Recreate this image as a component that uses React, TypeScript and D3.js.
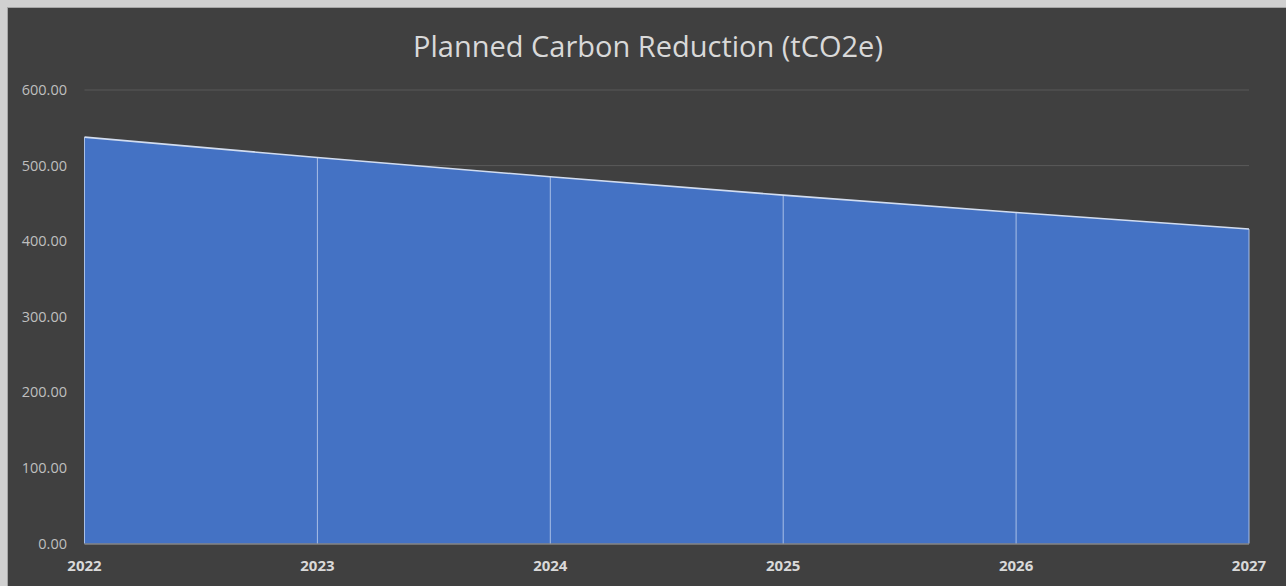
import React from 'react';
import * as d3 from 'd3';

const years = ['2022', '2023', '2024', '2025', '2026', '2027'];
const reduction = [537.6, 510.7, 485.2, 460.9, 437.9, 416.0];
const yTicks = [0, 100, 200, 300, 400, 500, 600];
const title = 'Planned Carbon Reduction (tCO2e)';

const W = 1286;
const H = 586;

const App = () => {
    const x = d3.scalePoint<string>().domain(years).range([84.5, 1249]);
    const y = d3.scaleLinear().domain([0, 600]).range([543.5, 90]);

    const pts = years.map((yr, i) => ({ yr, v: reduction[i] }));

    const area = d3.area<{ yr: string; v: number }>()
        .x(d => x(d.yr)!)
        .y0(y(0))
        .y1(d => y(d.v));

    const topLine = d3.line<{ yr: string; v: number }>()
        .x(d => x(d.yr)!)
        .y(d => y(d.v));

    const font = '"Open Sans", "Noto Sans", sans-serif';

    return (
        <svg width={W} height={H} style={{ position: 'absolute', left: 0, top: 0 }}>
            {/* outer frame around the chart */}
            <rect x={0} y={0} width={W} height={H} fill="#d0d0d0" />
            <rect x={7} y={7} width={W} height={H} fill="#a6a6a6" />
            <rect x={8} y={8} width={W} height={H} fill="#404040" />

            <text x={648} y={57} textAnchor="middle" fill="#d9d9d9"
                style={{ fontFamily: font, fontSize: 29 }}>{title}</text>

            {yTicks.map(t => (
                <g key={t}>
                    {t > 0 && (
                        <line x1={x('2022')} x2={x('2027')} y1={y(t)} y2={y(t)}
                            stroke="#595959" strokeWidth={1} />
                    )}
                    <text x={67} y={y(t)} dy="0.35em" textAnchor="end" fill="#bfbfbf"
                        style={{ fontFamily: font, fontSize: 14.5 }}>
                        {d3.format('.2f')(t)}
                    </text>
                </g>
            ))}

            <path d={area(pts) ?? ''} fill="#4472c4" />

            {pts.map(p => (
                <line key={p.yr} x1={x(p.yr)} x2={x(p.yr)} y1={y(p.v)} y2={y(0)}
                    stroke="#a9bfe6" strokeWidth={1} />
            ))}

            <path d={topLine(pts) ?? ''} fill="none" stroke="#d2ddf0" strokeWidth={1.6} />

            <line x1={x('2022')} x2={x('2027')} y1={y(0) + 0.5} y2={y(0) + 0.5}
                stroke="#a6a6a6" strokeWidth={1.2} />

            {years.map(yr => (
                <text key={yr} x={x(yr)} y={566} dy="0.35em" textAnchor="middle" fill="#d9d9d9"
                    style={{ fontFamily: font, fontSize: 15, fontWeight: 700 }}>
                    {yr}
                </text>
            ))}
        </svg>
    );
};

export default App;
